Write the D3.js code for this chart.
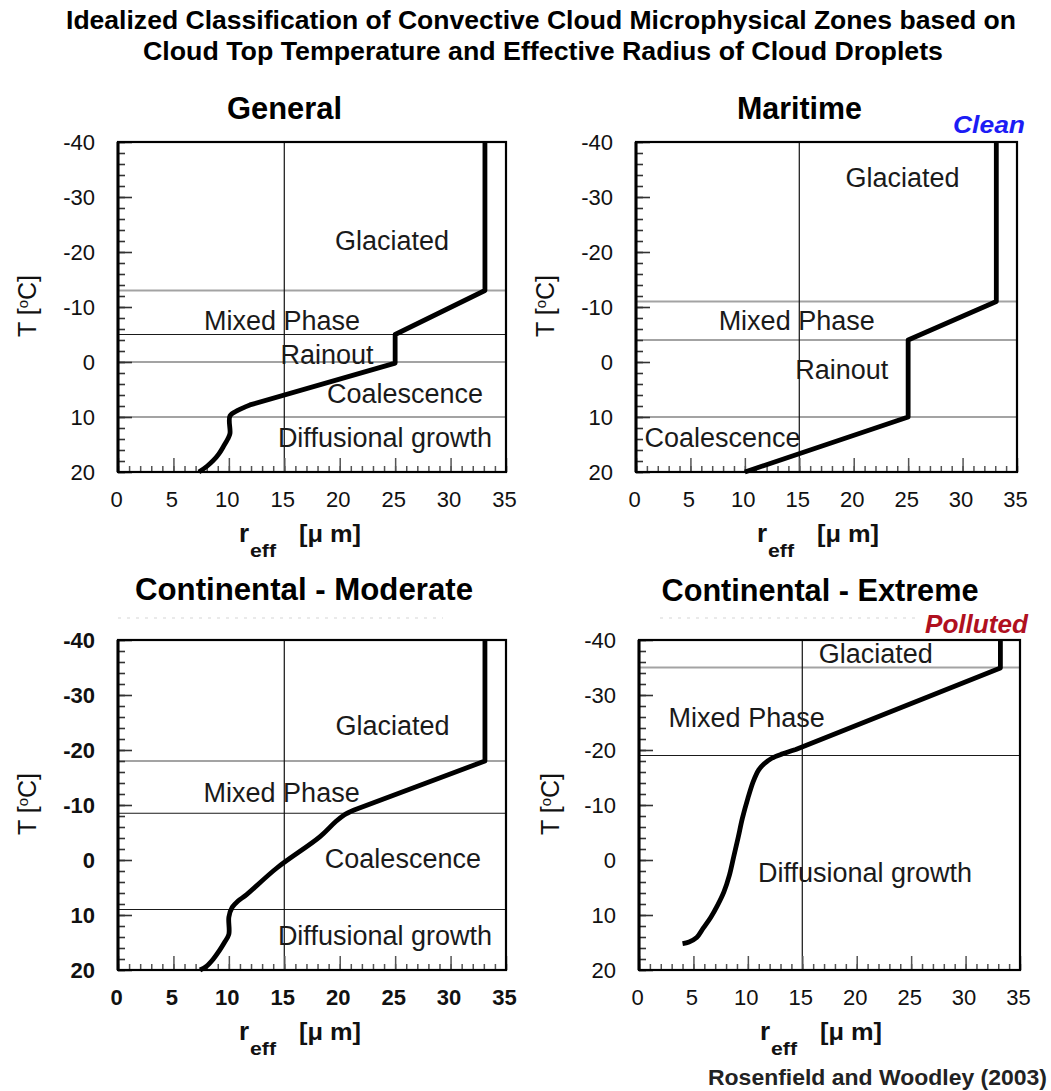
<!DOCTYPE html>
<html><head><meta charset="utf-8">
<script src="https://cdn.jsdelivr.net/npm/d3@7"></script>
<style>
html,body{margin:0;padding:0;background:#fff;}
svg{display:block;font-family:"Liberation Sans",Arial,Helvetica,sans-serif;}
</style></head><body>
<svg id="chart" width="1051" height="1091"></svg>
<script>
// ================= DATA =================
const mainTitle = [
  "Idealized Classification of Convective Cloud Microphysical Zones based on",
  "Cloud Top Temperature and Effective Radius of Cloud Droplets"
];
const panelTitles = ["General", "Maritime", "Continental - Moderate", "Continental - Extreme"];
const regimeTags = ["", "Clean", "", "Polluted"];
const credit = "Rosenfield and Woodley (2003)";

const rTicks = [0, 5, 10, 15, 20, 25, 30, 35];          // x tick labels (µm)
const tTicks = [-40, -30, -20, -10, 0, 10, 20];         // y tick labels (°C)
const rDomain = [0, 35];
const tDomain = [-40, 20];
const gridR = [15];                                     // vertical reference line

// curves: effective radius (µm) vs cloud-top temperature (°C)
const generalR  = [7.3, 8.0, 8.6, 9.1, 9.5, 9.9, 10.1, 10.1, 10.8, 11.9, 25.0, 25.0, 33.1, 33.1];
const generalT  = [20, 19.0, 17.9, 16.7, 15.4, 14.0, 13.0, 9.8, 8.8, 7.8, 0.2, -5, -13, -40];
const maritimeR = [10.0, 25.0, 25.0, 33.1, 33.1];
const maritimeT = [20, 10, -4, -11, -40];
const moderateR = [7.4, 8.0, 8.6, 9.1, 9.6, 10.0, 10.0, 10.3, 10.8, 11.6, 14.3, 18.2, 19.6, 20.4, 21.3, 33.1, 33.1];
const moderateT = [20, 19.3, 18.0, 16.6, 15.0, 13.5, 10.4, 8.6, 7.5, 6.3, 1.5, -4.2, -6.9, -8.2, -9.1, -18, -40];
const extremeR  = [4.0, 4.6, 5.3, 5.9, 6.6, 7.2, 7.8, 8.3, 8.7, 9.1, 9.5, 10.0, 10.5, 11.0, 11.5, 12.2, 13.2, 14.4, 33.2, 33.2];
const extremeT  = [15.2, 14.9, 14.1, 12.4, 10.4, 8.3, 5.8, 2.8, -0.6, -4.0, -7.6, -11.2, -14.3, -16.4, -17.5, -18.5, -19.3, -20.1, -34.9, -40];

// zone boundaries (°C)
const generalZoneT  = [-13, -5, 0, 10];
const maritimeZoneT = [-11, -4, 10];
const moderateZoneT = [-18, -8.5, 9];
const extremeZoneT  = [-35, -19];

// zone names
const generalZones  = ["Glaciated", "Mixed Phase", "Rainout", "Coalescence", "Diffusional growth"];
const maritimeZones = ["Glaciated", "Mixed Phase", "Rainout", "Coalescence"];
const moderateZones = ["Glaciated", "Mixed Phase", "Coalescence", "Diffusional growth"];
const extremeZones  = ["Glaciated", "Mixed Phase", "Diffusional growth"];

// ================= LAYOUT / STYLE =================
const panels = [
  { x:118, y:142, w:388, h:330, R:generalR, T:generalT, smooth:9, zones:generalZoneT, zoneStyle:["g","k","g","g"],
    names:generalZones, namePos:[[24.72,-20.4],[14.79,-5.8],[18.85,0.4],[25.89,7.5],[24.08,15.4]],
    title:{x:284.5, y:119, len:115}, yTitle:{x:27, y:306}, boldTicks:false },
  { x:636, y:142, w:381, h:330, R:maritimeR, T:maritimeT, smooth:0, zones:maritimeZoneT, zoneStyle:["g","g","g"],
    names:maritimeZones, namePos:[[24.48,-31.9],[14.76,-5.8],[18.9,3.0],[7.95,15.5]],
    title:{x:799.5, y:119, len:125}, yTitle:{x:545, y:306}, boldTicks:false,
    tag:{x:1025, y:133, size:24, len:72, color:"#1c1cf5"} },
  { x:118, y:640, w:388, h:330, R:moderateR, T:moderateT, smooth:14, zones:moderateZoneT, zoneStyle:["g","k","k"],
    names:moderateZones, namePos:[[24.76,-22.7],[14.76,-10.6],[25.7,1.5],[24.08,15.45]],
    title:{x:304, y:600, len:338}, yTitle:{x:27, y:804}, boldTicks:true,
    dots:{x1:118, x2:443, y:618} },
  { x:639, y:640, w:381, h:330, R:extremeR, T:extremeT, smooth:17, zones:extremeZoneT, zoneStyle:["g","k"],
    names:extremeZones, namePos:[[21.75,-35.8],[9.89,-24.2],[20.76,4.05]],
    title:{x:820, y:601, len:317}, yTitle:{x:550, y:804}, boldTicks:false,
    tag:{x:1028, y:633, size:26, len:103, color:"#b0101f"},
    dots:{x1:660, x2:920, y:618} }
];

const svg = d3.select("#chart");
svg.append("rect").attr("width",1051).attr("height",1091).attr("fill","#fff");

function txt(g, s, x, y, o) {
  const t = g.append("text").attr("x", x).attr("y", y).text(s)
    .attr("font-size", o.size).attr("font-weight", o.weight || "normal")
    .attr("text-anchor", o.anchor || "start").attr("fill", o.fill || "#000");
  if (o.style) t.attr("font-style", o.style);
  if (o.len) t.attr("textLength", o.len).attr("lengthAdjust", "spacingAndGlyphs");
  return t;
}

// main title
txt(svg, mainTitle[0], 541, 29, {size:25, weight:"bold", anchor:"middle", len:950});
txt(svg, mainTitle[1], 543, 60, {size:25, weight:"bold", anchor:"middle", len:800});

panels.forEach((p, i) => {
  const g = svg.append("g");
  const x = d3.scaleLinear().domain(rDomain).range([p.x, p.x + p.w]);
  const y = d3.scaleLinear().domain(tDomain).range([p.y, p.y + p.h]);

  // panel title
  txt(g, panelTitles[i], p.title.x, p.title.y, {size:31, weight:"bold", anchor:"middle", len:p.title.len});
  if (p.dots) {
    g.append("line").attr("x1", p.dots.x1).attr("x2", p.dots.x2).attr("y1", p.dots.y).attr("y2", p.dots.y)
      .attr("stroke", "#e4e4e4").attr("stroke-width", 1.5).attr("stroke-dasharray", "3,6");
  }
  if (p.tag) {
    txt(g, regimeTags[i], p.tag.x, p.tag.y, {size:p.tag.size, weight:"bold", style:"italic",
      anchor:"end", fill:p.tag.color, len:p.tag.len});
  }

  // zone boundary lines
  g.selectAll(".zone").data(p.zones).join("line")
    .attr("x1", x(rDomain[0])).attr("x2", x(rDomain[1]))
    .attr("y1", d => y(d)).attr("y2", d => y(d))
    .attr("stroke", (d, k) => p.zoneStyle[k] === "g" ? "#a3a3a3" : "#1a1a1a")
    .attr("stroke-width", (d, k) => p.zoneStyle[k] === "g" ? 2.2 : 1.2);

  // vertical reference line
  g.selectAll(".grid").data(gridR).join("line")
    .attr("x1", d => x(d)).attr("x2", d => x(d))
    .attr("y1", y(tDomain[0])).attr("y2", y(tDomain[1]))
    .attr("stroke", "#111").attr("stroke-width", 1.2);

  // inward ticks (left)
  const yl1 = g.append("g").attr("transform", `translate(${p.x},0)`)
    .call(d3.axisRight(y).ticks(30).tickSize(7).tickFormat(""));
  const yl2 = g.append("g").attr("transform", `translate(${p.x},0)`)
    .call(d3.axisRight(y).tickValues(tTicks).tickSize(14).tickFormat(""));
  [yl1, yl2].forEach(a => { a.select(".domain").remove(); a.selectAll("line").attr("stroke", "#333").attr("stroke-width", 1.6); });

  // inward ticks (bottom)
  const xb1 = g.append("g").attr("transform", `translate(0,${p.y + p.h})`)
    .call(d3.axisTop(x).ticks(35).tickSize(6).tickFormat(""));
  const xb2 = g.append("g").attr("transform", `translate(0,${p.y + p.h})`)
    .call(d3.axisTop(x).tickValues(rTicks).tickSize(14).tickFormat(""));
  [xb1, xb2].forEach(a => { a.select(".domain").remove(); a.selectAll("line").attr("stroke", "#555").attr("stroke-width", 1.5); });

  // tick labels (hyphen-minus as in the original)
  const ya = g.append("g").attr("transform", `translate(${p.x},0)`)
    .call(d3.axisLeft(y).tickValues(tTicks).tickSize(0).tickPadding(23).tickFormat(d => String(d)));
  ya.select(".domain").remove();
  ya.selectAll("text").attr("font-size", 22).attr("font-family", "Liberation Sans, Arial, sans-serif")
    .attr("font-weight", p.boldTicks ? "bold" : "normal").attr("fill", "#111").attr("dy", "0.36em");
  const xa = g.append("g").attr("transform", `translate(-2,${p.y + p.h})`)
    .call(d3.axisBottom(x).tickValues(rTicks).tickSize(0).tickPadding(19).tickFormat(d => String(d)));
  xa.select(".domain").remove();
  xa.selectAll("text").attr("font-size", 22).attr("font-family", "Liberation Sans, Arial, sans-serif")
    .attr("font-weight", p.boldTicks ? "bold" : "normal").attr("fill", "#111");

  // frame
  g.append("rect").attr("x", p.x).attr("y", p.y).attr("width", p.w).attr("height", p.h)
    .attr("fill", "none").attr("stroke", "#000").attr("stroke-width", 2.2);
  g.append("line").attr("x1", p.x).attr("x2", p.x).attr("y1", p.y).attr("y2", p.y + p.h)
    .attr("stroke", "#000").attr("stroke-width", 3);

  // curve: smooth lower part (Catmull-Rom) + straight segments above
  const pts = p.R.map((r, k) => [r, p.T[k]]);
  const smoothPts = pts.slice(0, p.smooth + 1);
  const linPts = pts.slice(p.smooth);
  const lineSmooth = d3.line().x(d => x(d[0])).y(d => y(d[1])).curve(d3.curveCatmullRom.alpha(0.5));
  const lineLin = d3.line().x(d => x(d[0])).y(d => y(d[1]));
  let dStr = smoothPts.length > 1 ? lineSmooth(smoothPts) : "";
  const lin = lineLin(linPts);
  dStr = dStr ? dStr + lin.replace(/^M[^L]*/, "") : lin;
  g.append("path")
    .attr("d", dStr)
    .attr("fill", "none").attr("stroke", "#000").attr("stroke-width", 4.8)
    .attr("stroke-linejoin", "round");

  // zone labels
  p.names.forEach((n, k) => {
    txt(g, n, x(p.namePos[k][0]), y(p.namePos[k][1]), {size:27, anchor:"middle", fill:"#1a1a1a"});
  });

  // y-axis title
  const yt = g.append("text").attr("transform", `translate(${p.yTitle.x},${p.yTitle.y}) rotate(-90)`)
    .attr("text-anchor", "middle").attr("dy", "0.35em").attr("font-size", 25).attr("fill", "#111");
  yt.append("tspan").text("T [");
  yt.append("tspan").text("o").attr("font-size", 15).attr("dy", "-0.55em");
  yt.append("tspan").text("C]").attr("dy", "0.35em");

  // x-axis title
  const by = p.y + p.h + 70;
  txt(g, "r", p.x + 121, by, {size:26, weight:"bold", fill:"#111"});
  txt(g, "eff", p.x + 132, by + 15, {size:18, weight:"bold", fill:"#111", len:26});
  txt(g, "[\u03bc m]", p.x + 181, by, {size:24, weight:"bold", fill:"#111", len:62});
});

txt(svg, credit, 1047, 1085, {size:22, weight:"bold", anchor:"end", fill:"#222", len:339});
</script>
</body></html>
